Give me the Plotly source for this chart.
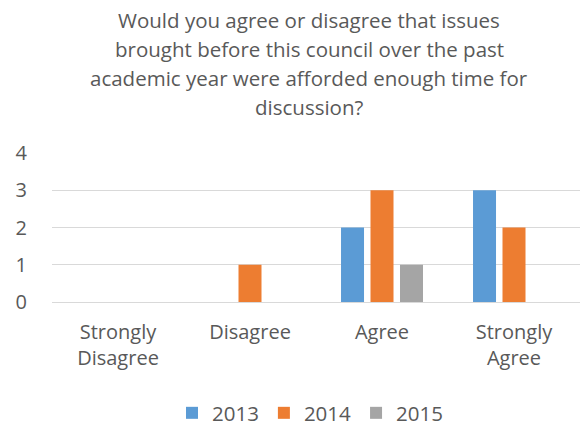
import plotly.graph_objects as go

categories = ["Strongly<br>Disagree", "Disagree", "Agree", "Strongly<br>Agree"]
series_names = ["2013", "2014", "2015"]
values_2013 = [0, 0, 2, 3]
values_2014 = [0, 1, 3, 2]
values_2015 = [0, 0, 1, 0]
colors = ["#5B9BD5", "#ED7D31", "#A5A5A5"]
title_lines = [
    "Would you agree or disagree that issues",
    "brought before this council over the past",
    "academic year were afforded enough time for",
    "discussion?",
]
y_ticks = [0, 1, 2, 3, 4]

FONT = "Open Sans"
TXT = "#595959"

fig = go.Figure()
for name, vals, col in zip(series_names, [values_2013, values_2014, values_2015], colors):
    fig.add_trace(go.Bar(x=categories, y=vals, name=name, marker=dict(color=col, line=dict(width=0))))

W, H = 581, 429
ml, mr, mt, mb = 52, 1, 153, 127
ph = H - mt - mb

line_y_px = [20, 49, 78, 107]
for txt, ypx in zip(title_lines, line_y_px):
    fig.add_annotation(text=txt, xref="paper", yref="paper",
                       x=(309 - ml) / (W - ml - mr), y=(H - mb - ypx) / ph,
                       xanchor="center", yanchor="middle", showarrow=False,
                       font=dict(family=FONT, size=20.5, color=TXT))

fig.update_layout(
    width=W, height=H,
    margin=dict(l=ml, r=mr, t=mt, b=mb, pad=0, autoexpand=False),
    paper_bgcolor="white", plot_bgcolor="white",
    barmode="group", bargap=0.33, bargroupgap=0.22,
    font=dict(family=FONT, size=20, color=TXT),
    showlegend=True,
    legend=dict(orientation="h", x=(310 - ml) / (W - ml - mr), xanchor="center",
                y=(H - mb - 413) / ph, yanchor="middle", itemwidth=30,
                font=dict(family=FONT, size=20.5, color=TXT), traceorder="normal"),
)
fig.update_yaxes(range=[0, 4], tickvals=y_ticks, showgrid=True, gridcolor="#D9D9D9", gridwidth=1,
                 zeroline=True, zerolinecolor="#D9D9D9", zerolinewidth=1, showline=False,
                 automargin=False, ticklabelstandoff=24, tickfont=dict(size=20, color=TXT))
fig.update_xaxes(showline=False, showgrid=False, ticks="", ticklabelstandoff=16, automargin=False,
                 tickfont=dict(size=20, color=TXT))

fig.write_html("out.html", config={"displayModeBar": False},
               post_script="document.body.style.margin='0';")
